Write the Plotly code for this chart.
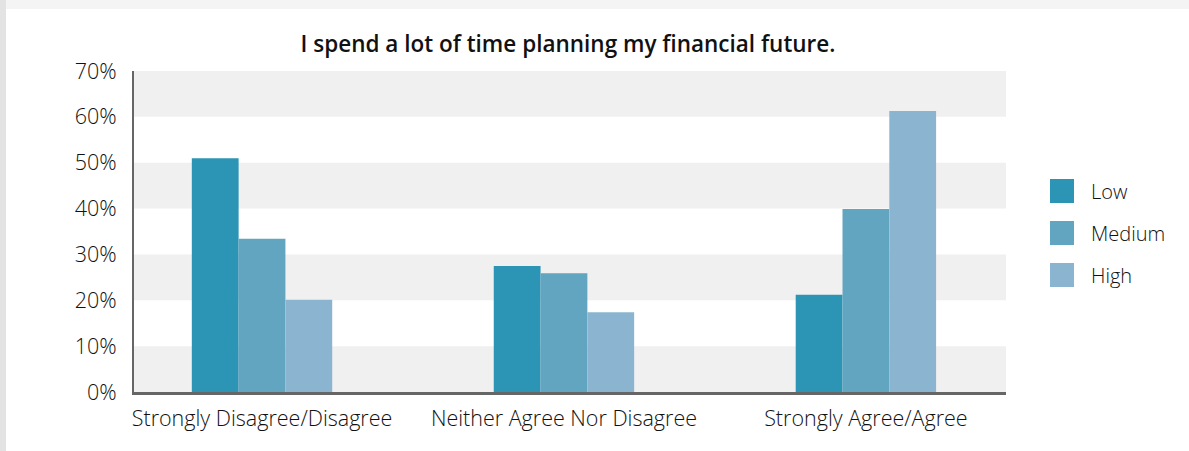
import plotly.graph_objects as go

# Survey responses by financial-planning group
categories = ["Strongly Disagree/Disagree", "Neither Agree Nor Disagree", "Strongly Agree/Agree"]
series_names = ["Low", "Medium", "High"]
low_values = [51.0, 27.5, 21.2]
medium_values = [33.4, 25.9, 39.9]
high_values = [20.1, 17.4, 61.3]
y_ticks = [0, 10, 20, 30, 40, 50, 60, 70]

colors = ["#2c95b5", "#62a5c0", "#8ab4cf"]
FONT = "Open Sans"
TXT = "#111"

W, H = 1189, 451
ML, MR, MT, MB = 134, 183, 71, 59
PW, PH = W - ML - MR, H - MT - MB


def px_x(x):
    return (x - ML) / PW


def px_y(y):
    return (H - MB - y) / PH


fig = go.Figure()
for name, vals, col in zip(series_names, [low_values, medium_values, high_values], colors):
    fig.add_trace(go.Bar(x=categories, y=vals, name=name, marker_color=col,
                         marker_line_width=0, showlegend=False))

shapes = []
# card edges
shapes.append(dict(type="rect", xref="paper", yref="paper", x0=px_x(0), x1=px_x(W),
                   y0=px_y(9), y1=px_y(0), fillcolor="#f4f4f4", line_width=0, layer="below"))
shapes.append(dict(type="rect", xref="paper", yref="paper", x0=px_x(0), x1=px_x(6),
                   y0=px_y(H), y1=px_y(0), fillcolor="#e3e3e3", line_width=0, layer="below"))
# alternating horizontal bands
for lo in range(0, 70, 20):
    shapes.append(dict(type="rect", xref="paper", yref="y", x0=0, x1=1, y0=lo, y1=lo + 10,
                       fillcolor="#f0f0f0", line_width=0, layer="below"))

# legend drawn as swatches and labels
annotations = []
leg_top = [179, 221, 263]
for name, col, top in zip(series_names, colors, leg_top):
    shapes.append(dict(type="rect", xref="paper", yref="paper", x0=px_x(1050), x1=px_x(1074),
                       y0=px_y(top + 24), y1=px_y(top), fillcolor=col, line_width=0))
    annotations.append(dict(xref="paper", yref="paper", x=px_x(1089), y=px_y(top + 12),
                            text=name, showarrow=False, xanchor="left", yanchor="middle",
                            font=dict(family=FONT, size=20, color=TXT, weight=300)))

fig.update_layout(
    width=W, height=H,
    margin=dict(l=ML, r=MR, t=MT, b=MB, pad=0),
    paper_bgcolor="white",
    plot_bgcolor="rgba(0,0,0,0)",
    barmode="group",
    bargap=0.535,
    bargroupgap=0,
    title=dict(text="I spend a lot of time planning my financial future.",
               xref="container", x=568 / W, xanchor="center", y=1 - 44 / H, yanchor="middle",
               font=dict(family=FONT, size=22.5, color=TXT, weight=600)),
    font=dict(family=FONT, size=21.5, color=TXT, weight=300),
    shapes=shapes,
    annotations=annotations,
    showlegend=False,
)
fig.update_xaxes(range=[-0.424, 2.464], showgrid=False, showline=True, linecolor="#666",
                 linewidth=3, ticks="outside", ticklen=5, tickcolor="rgba(0,0,0,0)",
                 tickfont=dict(family=FONT, size=21.5, color=TXT, weight=300), fixedrange=True)
fig.update_yaxes(range=[0, 70], tickvals=y_ticks, ticktext=[f"{v}%" for v in y_ticks],
                 showgrid=False, zeroline=False, showline=True, linecolor="#666", linewidth=2,
                 ticks="outside", ticklen=11, tickcolor="rgba(0,0,0,0)",
                 tickfont=dict(family=FONT, size=21.5, color=TXT, weight=300), fixedrange=True)

fig.write_html("out.html")
